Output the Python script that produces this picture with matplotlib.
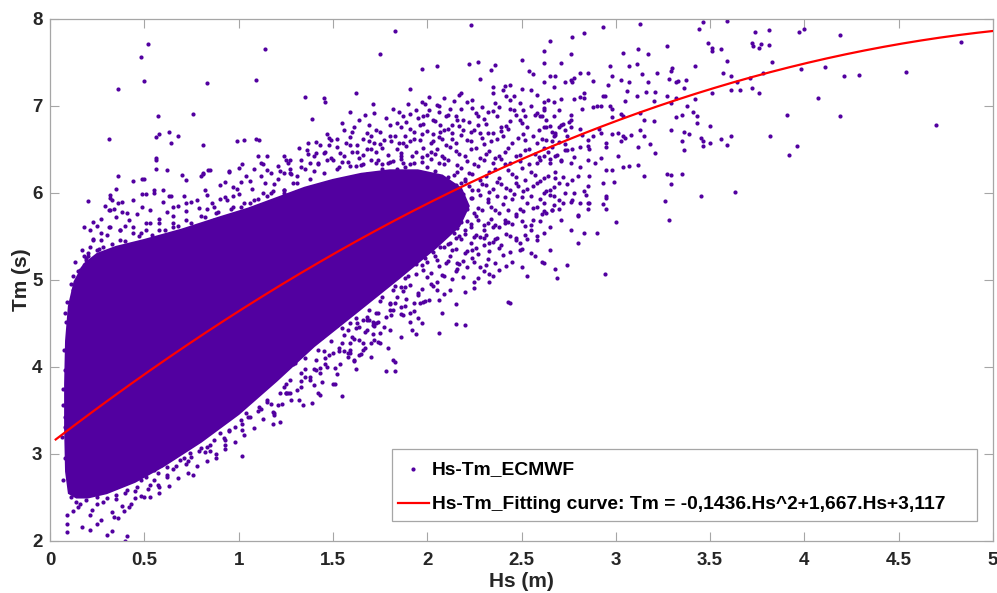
import matplotlib
matplotlib.use("Agg")
import matplotlib.pyplot as plt
from matplotlib.patches import Rectangle
import numpy as np

plt.rcParams['font.family'] = ['Liberation Sans', 'DejaVu Sans']
plt.rcParams['font.weight'] = 'bold'

DOT_COLOR = '#5200a0'

# Outline of the dense core of the cloud, where the dots merge into one solid area
core_hs = [0.10, 0.085, 0.08, 0.08, 0.085, 0.10, 0.13, 0.18, 0.25, 0.35, 0.50, 0.70,
           0.90, 1.05, 1.20, 1.35, 1.50, 1.65, 1.80, 1.95, 2.08, 2.18, 2.22, 2.17,
           2.05, 1.85, 1.62, 1.40, 1.20, 1.00, 0.80, 0.60, 0.45, 0.30, 0.20, 0.14]
core_tm = [2.55, 2.80, 3.30, 3.80, 4.30, 4.70, 4.98, 5.18, 5.30, 5.38, 5.46, 5.58,
           5.72, 5.82, 5.94, 6.06, 6.15, 6.22, 6.26, 6.26, 6.20, 6.05, 5.85, 5.62,
           5.38, 5.02, 4.62, 4.24, 3.84, 3.46, 3.14, 2.86, 2.68, 2.55, 2.50, 2.50]

# Sparse points above the core (small Hs)
upper_pts = [
    (0.52, 7.71), (0.48, 7.56), (0.50, 7.29), (0.36, 7.20), (1.14, 7.66), (1.09, 7.30),
    (0.83, 7.26), (0.76, 6.91), (0.57, 6.89), (0.31, 6.62), (0.58, 6.68), (0.56, 6.64),
    (0.63, 6.70), (0.64, 6.57), (0.68, 6.66), (0.81, 6.55), (0.99, 6.60), (1.09, 6.62),
    (1.11, 6.61), (1.35, 7.10), (1.39, 6.85), (1.45, 7.09), (1.46, 7.04), (1.41, 6.59),
    (0.56, 6.40), (0.56, 6.38), (0.56, 6.28), (0.62, 6.26), (0.50, 6.16), (0.55, 6.00),
    (0.36, 6.19), (0.44, 6.14), (0.49, 5.99), (0.51, 5.99), (0.20, 5.91), (0.23, 5.67),
    (0.18, 5.61), (0.13, 5.21), (0.12, 4.89), (0.16, 5.12), (0.19, 5.23), (0.20, 5.31),
    (0.32, 5.94), (0.32, 5.98), (0.32, 5.80), (0.35, 6.05), (0.34, 5.82), (0.44, 5.92),
    (0.41, 5.77), (0.70, 6.21), (0.72, 6.15), (0.80, 6.19), (0.81, 6.23), (0.85, 6.26),
    (0.90, 6.09), (0.95, 6.24), (0.97, 6.07), (1.01, 6.13), (1.08, 6.28), (1.12, 6.34),
    (1.15, 6.42), (1.21, 6.31), (1.24, 6.23), (1.27, 6.38), (1.33, 6.30), (1.38, 6.34),
    (1.36, 6.49), (1.41, 6.46), (1.46, 6.47), (1.49, 6.61), (1.50, 6.38), (0.63, 5.96),
    (0.65, 5.84), (0.72, 5.88), (0.78, 5.92), (0.83, 5.98), (0.87, 5.84), (0.94, 5.92),
    (0.97, 5.96), (1.01, 5.84), (1.08, 5.92), (1.13, 6.00), (1.18, 6.02), (1.24, 6.00),
    (0.27, 5.54), (0.23, 5.46), (0.28, 5.38), (0.32, 5.61), (0.37, 5.57), (0.42, 5.69),
    (0.48, 5.54), (0.53, 5.65), (0.58, 5.57), (0.65, 5.65), (0.72, 5.54), (0.80, 5.61),
    (0.87, 5.69), (0.94, 5.65), (1.01, 5.69), (1.08, 5.73), (1.15, 5.77), (1.24, 5.80),
    (1.33, 5.88), (1.41, 5.96), (1.50, 6.07), (0.21, 5.58), (0.16, 5.10), (0.17, 5.14),
    (0.18, 5.27), (0.19, 5.25), (0.13, 4.81), (0.14, 4.70), (0.33, 5.92), (0.36, 5.88),
    (0.38, 5.90), (0.31, 5.80), (0.49, 6.16), (0.55, 6.03), (0.60, 6.03), (0.64, 5.96),
    (0.81, 6.22), (0.84, 6.26), (0.95, 6.25), (1.00, 6.29), (1.03, 6.61), (1.02, 6.33),
    (1.10, 6.42), (1.13, 6.33), (1.24, 6.43), (1.25, 6.38), (1.17, 6.23), (1.22, 6.25),
    (1.27, 6.23), (1.33, 6.38), (0.27, 5.46), (0.21, 5.38), (0.18, 5.08), (0.25, 5.34),
    (0.31, 5.61), (0.37, 5.46), (0.44, 5.54), (0.51, 5.57), (0.58, 5.65), (0.65, 5.61),
    (0.72, 5.69), (0.80, 5.73), (0.88, 5.77), (0.97, 5.84), (1.06, 5.88), (1.15, 5.96),
    (1.24, 6.03), (1.29, 6.11), (0.22, 5.20), (0.30, 5.25), (0.38, 5.30), (0.46, 5.28),
    (0.55, 5.33), (0.63, 5.38), (0.70, 5.36), (0.78, 5.45), (0.86, 5.48), (0.94, 5.52),
    (1.02, 5.62), (1.10, 5.70), (1.18, 5.75), (1.26, 5.86), (1.35, 5.92), (1.43, 6.04),
    (1.52, 6.10), (1.60, 6.18), (1.68, 6.22), (1.76, 6.27), (1.84, 6.28), (1.92, 6.24),
    (0.20, 5.28), (0.26, 5.36), (0.33, 5.41), (0.40, 5.45), (0.47, 5.50), (0.54, 5.52),
    (0.61, 5.58), (0.68, 5.62), (0.75, 5.66), (0.82, 5.72), (0.89, 5.78), (0.96, 5.82),
    (1.03, 5.88), (1.10, 5.93), (1.17, 6.00), (1.24, 6.04), (1.31, 6.12), (1.38, 6.16),
    (1.45, 6.23), (1.52, 6.27), (1.59, 6.31), (1.66, 6.33), (1.73, 6.35), (1.80, 6.36),
    (1.87, 6.34), (0.23, 5.47), (0.30, 5.52), (0.37, 5.58), (0.44, 5.61), (0.51, 5.66),
    (0.58, 5.70), (0.65, 5.74), (0.72, 5.79), (0.79, 5.83), (0.86, 5.88), (0.93, 5.95),
    (1.00, 5.99), (1.07, 6.05), (1.14, 6.11), (1.21, 6.16), (1.28, 6.22), (1.35, 6.28),
    (1.42, 6.34), (1.49, 6.40), (1.56, 6.43), (1.63, 6.47), (1.70, 6.50), (0.27, 5.70),
    (0.38, 5.78), (0.49, 5.84), (0.60, 5.90), (0.71, 5.97), (0.82, 6.04), (0.93, 6.13),
    (1.04, 6.19), (1.15, 6.26), (1.26, 6.35), (1.37, 6.45), (1.48, 6.55), (1.59, 6.64),
    (1.70, 6.66), (0.09, 4.75), (0.11, 4.95), (0.15, 5.10),
    (0.12, 5.05), (0.17, 5.35), (0.25, 5.62), (0.29, 5.85), (0.35, 5.72), (0.40, 5.62),
    (0.46, 5.76), (0.53, 5.80), (0.62, 5.78), (0.68, 5.85), (0.75, 5.90), (0.83, 5.82),
    (0.90, 5.93), (0.99, 6.05), (1.06, 6.14), (1.12, 6.20), (1.19, 6.10), (1.27, 6.28),
    (1.31, 6.20), (1.40, 6.25),
    (1.32, 6.52), (1.37, 6.58), (1.43, 6.55), (1.47, 6.68), (1.52, 6.62), (1.55, 6.80),
    (1.60, 6.70), (1.64, 6.84), (1.69, 6.78), (1.72, 6.92), (1.78, 6.86), (1.82, 6.97),
    (1.87, 6.88), (1.90, 7.02), (1.94, 6.95), (1.98, 6.88), (2.01, 7.10), (2.06, 7.00),
    (2.14, 7.06), (2.18, 6.96), (1.54, 6.46), (1.59, 6.55), (1.64, 6.40), (1.69, 6.60),
    (1.75, 6.56), (1.80, 6.65), (1.85, 6.58), (1.91, 6.60), (1.97, 6.68), (2.03, 6.60),
    (2.07, 6.70), (2.13, 6.62), (2.17, 6.77), (2.23, 6.70), (2.27, 6.78),
]

# Points along the left edge and below the core
lower_pts = [
    (0.08, 4.62), (0.085, 4.52), (0.10, 4.16), (0.08, 3.97), (0.10, 3.66), (0.08, 3.43),
    (0.08, 3.31), (0.07, 3.56), (0.09, 3.05), (0.11, 2.89), (0.08, 2.95), (0.09, 2.30),
    (0.09, 2.20), (0.09, 2.10), (0.12, 2.34), (0.15, 2.39), (0.17, 2.16), (0.21, 2.30),
    (0.21, 2.13), (0.25, 2.20), (0.27, 2.24), (0.30, 2.07), (0.33, 2.11), (0.36, 2.26),
    (0.39, 2.34), (0.41, 2.06), (0.40, 2.00), (0.34, 2.28), (0.42, 2.39), (0.45, 2.49),
    (0.50, 2.50), (0.58, 2.55), (0.53, 2.64), (0.57, 2.64), (0.55, 2.82), (0.62, 2.73),
    (0.59, 2.87), (0.67, 2.86), (0.65, 2.97), (0.73, 2.92), (0.71, 2.95), (0.76, 2.76),
    (0.79, 3.03), (0.83, 3.08), (0.88, 2.95), (0.85, 3.03), (0.93, 3.10), (1.02, 2.98),
    (0.93, 3.16), (0.98, 3.31), (1.02, 3.28), (1.06, 3.43), (1.18, 3.35), (1.22, 3.37),
    (1.19, 3.47), (1.11, 3.54), (1.15, 3.62), (1.25, 3.70), (1.21, 3.56), (0.11, 2.51),
    (0.14, 2.45), (0.19, 2.47), (0.25, 2.51), (0.30, 2.49), (0.35, 2.53), (0.41, 2.59),
    (0.46, 2.62), (0.48, 2.70), (0.51, 2.74), (0.57, 2.78), (0.62, 2.85), (0.69, 2.93),
    (0.74, 3.01), (0.80, 3.07), (0.87, 3.16), (0.90, 3.24), (0.95, 3.28), (1.01, 3.39),
    (1.04, 3.47), (1.10, 3.49), (1.17, 3.58), (1.19, 3.45), (1.34, 3.56), (1.39, 3.59),
    (1.40, 3.79), (1.42, 3.70), (1.43, 3.68), (1.50, 3.81), (1.55, 3.67), (1.32, 3.62),
    (1.25, 3.70), (1.27, 3.70), (1.35, 3.89), (1.41, 3.97), (1.43, 3.99),
    (1.59, 4.20), (1.59, 4.16), (1.64, 4.14), (1.66, 4.20), (1.56, 4.37), (1.58, 4.43),
    (1.61, 4.08), (1.78, 3.95), (1.83, 3.95), (1.74, 4.29), (1.70, 4.28), (1.82, 4.08),
    (1.83, 4.06), (1.91, 4.52), (1.92, 4.43), (1.94, 4.38), (2.06, 4.39), (2.15, 4.49),
    (2.20, 4.48), (1.82, 4.66), (1.86, 4.69), (1.93, 4.64), (1.98, 4.75), (2.01, 4.77),
    (2.09, 4.84), (2.20, 4.86), (2.43, 4.75), (1.95, 4.85), (1.91, 4.94), (1.86, 4.92),
    (2.05, 4.98), (2.02, 5.08), (1.98, 5.11), (2.15, 5.10), (2.16, 5.13), (2.21, 5.15),
    (2.28, 5.15), (2.33, 5.07), (2.33, 4.98), (2.38, 5.12), (2.10, 5.19), (2.12, 5.27),
    (2.05, 5.23), (2.09, 5.38), (2.21, 5.33), (2.24, 5.25), (2.30, 5.40), (2.33, 5.42),
    (2.37, 5.48), (2.39, 5.40), (2.26, 5.52), (2.30, 5.57), (2.17, 5.50), (2.14, 5.54),
    (2.23, 5.61), (2.35, 5.61), (2.41, 5.65), (1.84, 4.81), (1.87, 4.87), (1.80, 4.73),
    (1.73, 4.62), (1.68, 4.54), (1.64, 4.46), (1.77, 4.46), (1.50, 4.16), (1.54, 4.04),
    (1.47, 4.00), (1.41, 4.08), (1.38, 3.85), (1.33, 3.93), (1.27, 3.85), (1.24, 3.77),
    (1.29, 4.04), (2.44, 4.74), (1.51, 3.81), (1.61, 4.07), (1.56, 4.18), (1.58, 4.16),
    (1.65, 4.15), (1.71, 4.38), (1.75, 4.27), (1.75, 4.39), (1.59, 4.28), (1.64, 4.31),
    (1.67, 4.22), (1.93, 4.73), (1.91, 4.62), (1.86, 4.61), (1.99, 4.76), (2.05, 4.88),
    (1.73, 4.50), (1.71, 4.48), (1.63, 4.50), (1.59, 4.50), (1.66, 4.54), (1.69, 4.54),
    (1.71, 4.52), (1.80, 4.66), (1.83, 4.73), (1.15, 3.80), (1.22, 3.95), (1.30, 4.05),
    (1.36, 4.22), (1.44, 4.35), (1.52, 4.48), (1.58, 4.62), (1.66, 4.75), (1.74, 4.88),
    (1.82, 5.05), (1.90, 5.20), (1.98, 5.40), (2.02, 5.55),
    (0.25, 2.42), (0.35, 2.48), (0.45, 2.58), (0.55, 2.70), (0.65, 2.83), (0.75, 2.97),
    (0.85, 3.10), (0.95, 3.26), (1.05, 3.42), (1.15, 3.60), (1.25, 3.80), (1.35, 3.98),
    (1.45, 4.18), (0.33, 2.33), (0.43, 2.42), (0.53, 2.50), (0.63, 2.63), (0.73, 2.78),
    (0.83, 2.92), (0.93, 3.06), (1.03, 3.22), (1.13, 3.40), (1.23, 3.58), (1.33, 3.77),
    (1.43, 3.93), (0.07, 2.70), (0.065, 3.20), (0.07, 3.75), (0.075, 4.20),
    (1.82, 4.88), (1.88, 4.92), (1.97, 4.90), (2.03, 4.93), (2.12, 4.89), (2.25, 4.91),
    (1.75, 4.76), (1.80, 4.72), (1.89, 4.78), (1.96, 4.73), (2.06, 4.77), (1.68, 4.58),
    (1.74, 4.62), (1.78, 4.57), (1.87, 4.60), (1.95, 4.56), (1.62, 4.45), (1.68, 4.42),
    (1.72, 4.47), (1.80, 4.43), (1.55, 4.28), (1.61, 4.32), (1.66, 4.27), (1.72, 4.31),
    (1.48, 4.14), (1.53, 4.18), (1.58, 4.12), (1.40, 3.98), (1.46, 4.03), (1.51, 3.99),
    (1.33, 3.84), (1.38, 3.88), (1.44, 3.83), (1.26, 3.70), (1.31, 3.73),
    (1.35, 4.10), (1.42, 4.20), (1.49, 4.30), (1.55, 4.45), (1.62, 4.56), (1.69, 4.66),
    (1.76, 4.80), (1.83, 4.93), (1.90, 5.05), (1.97, 5.17), (2.04, 5.28), (2.12, 5.42),
    (2.20, 5.58), (1.46, 4.10), (1.53, 4.22), (1.60, 4.35), (1.67, 4.40), (1.74, 4.52),
    (1.81, 4.60), (1.88, 4.70), (1.95, 4.83), (2.02, 4.95), (2.09, 5.05), (2.16, 5.20),
    (2.24, 5.34), (2.30, 5.48), (1.52, 3.92), (1.62, 3.98), (1.70, 4.12), (1.79, 4.22),
    (1.86, 4.35), (1.97, 4.50), (2.08, 4.62), (2.15, 4.72), (2.25, 4.98), (2.30, 5.10),
    (0.16, 2.42), (0.22, 2.36), (0.28, 2.45), (0.38, 2.40), (0.48, 2.52), (0.58, 2.62),
    (0.68, 2.72), (0.78, 2.86), (0.88, 3.00), (0.98, 3.14), (1.08, 3.30), (1.18, 3.48),
    (1.28, 3.62), (0.40, 2.55), (0.52, 2.60), (0.62, 2.76), (0.72, 2.88), (0.82, 3.02),
    (0.92, 3.18), (1.02, 3.34), (1.12, 3.52), (1.22, 3.70),
]

# Speckled band at moderate Hs
mid_pts = [
    (1.83, 7.86), (2.23, 7.93), (1.75, 7.60), (1.97, 7.42), (2.05, 7.46), (2.22, 7.48),
    (2.27, 7.50), (2.34, 7.41), (2.36, 7.47), (2.28, 7.31), (2.50, 7.53), (2.54, 7.40),
    (2.56, 7.37), (1.91, 7.19), (1.62, 7.15), (1.71, 7.02), (1.59, 6.93), (1.67, 6.90),
    (1.85, 6.93), (1.97, 7.05), (2.01, 6.95), (2.05, 7.01), (2.09, 7.09), (2.18, 7.15),
    (2.17, 7.13), (2.24, 7.07), (2.24, 6.98), (2.35, 7.22), (2.40, 7.18), (2.42, 7.11),
    (2.44, 7.07), (2.46, 7.11), (2.50, 7.19), (2.55, 7.18), (2.58, 7.13), (2.29, 6.99),
    (2.32, 6.93), (2.36, 7.03), (2.44, 6.97), (2.46, 6.95), (2.51, 6.95), (2.55, 7.00),
    (2.57, 6.90), (2.41, 7.23), (2.44, 7.24), (2.35, 7.15), (2.37, 6.88), (2.39, 6.76),
    (2.35, 6.69), (2.40, 6.65), (2.49, 6.84), (2.53, 6.76), (2.56, 6.65), (2.60, 6.88),
    (2.63, 6.76), (2.67, 6.65), (2.64, 7.07), (2.16, 6.84), (2.19, 6.72), (2.13, 6.69),
    (2.28, 6.69), (1.80, 6.78), (1.86, 6.76), (1.89, 6.82), (1.93, 6.70), (1.96, 6.78),
    (2.00, 6.90), (2.03, 6.84), (2.07, 6.78), (2.10, 6.88), (2.09, 6.72), (1.56, 6.72),
    (1.61, 6.76), (1.68, 6.69), (1.73, 6.72), (1.77, 6.61), (1.48, 6.63), (1.40, 6.42),
    (1.45, 6.46), (1.52, 6.53), (1.57, 6.57), (1.63, 6.55), (1.68, 6.51), (1.73, 6.47),
    (1.79, 6.44), (1.84, 6.50), (1.89, 6.54), (1.94, 6.47), (2.00, 6.44), (2.05, 6.50),
    (2.10, 6.55), (1.42, 6.33), (1.47, 6.38), (1.53, 6.30), (1.58, 6.36), (1.62, 6.31),
    (1.70, 6.38), (1.76, 6.33), (1.82, 6.37), (1.88, 6.30), (1.93, 6.35),
    (1.95, 6.86), (2.11, 6.90), (2.19, 6.84), (2.27, 6.88), (2.31, 6.79), (2.44, 6.83),
    (2.52, 6.89), (1.88, 6.66), (1.93, 6.62), (2.00, 6.71), (2.06, 6.64), (2.21, 6.61),
    (2.29, 6.63), (2.34, 6.60), (2.39, 6.71), (2.48, 6.63), (2.61, 6.62), (2.68, 6.67),
    (1.86, 6.43), (1.97, 6.41), (2.02, 6.47), (2.08, 6.42), (2.12, 6.53), (2.17, 6.45),
    (2.23, 6.51), (2.28, 6.40), (2.33, 6.48), (2.38, 6.43), (2.43, 6.52), (2.49, 6.44),
    (2.54, 6.50), (2.59, 6.41), (2.64, 6.47), (1.95, 6.22), (2.00, 6.30), (2.04, 6.25),
    (2.09, 6.33), (2.14, 6.21), (2.18, 6.29), (2.22, 6.23), (2.27, 6.31), (2.31, 6.20),
    (2.36, 6.27), (2.41, 6.33), (2.45, 6.22), (2.50, 6.29), (2.55, 6.24), (2.58, 6.34),
    (2.02, 6.05), (2.06, 6.12), (2.11, 6.02), (2.15, 6.09), (2.20, 6.14), (2.24, 6.04),
    (2.29, 6.10), (2.33, 6.01), (2.37, 6.13), (2.42, 6.06), (2.47, 6.11), (2.51, 6.02),
    (2.56, 6.08), (2.60, 6.14), (2.05, 5.85), (2.10, 5.92), (2.14, 5.81), (2.19, 5.89),
    (2.23, 5.94), (2.27, 5.83), (2.32, 5.90), (2.36, 5.80), (2.40, 5.87), (2.45, 5.93),
    (2.49, 5.82), (2.53, 5.89), (2.58, 5.84), (2.08, 5.64), (2.12, 5.72), (2.16, 5.60),
    (2.21, 5.68), (2.26, 5.74), (2.30, 5.63), (2.34, 5.70), (2.38, 5.61), (2.43, 5.67),
    (2.47, 5.73), (2.52, 5.62), (2.56, 5.69), (2.02, 5.43), (2.07, 5.50), (2.11, 5.41),
    (2.18, 5.47), (2.23, 5.42), (2.28, 5.49), (2.35, 5.44), (2.44, 5.50), (2.49, 5.42),
    (2.53, 5.47), (1.99, 5.25), (2.03, 5.32), (2.13, 5.35), (2.19, 5.22), (2.27, 5.30),
    (2.32, 5.24), (2.40, 5.29), (2.45, 5.21),
    (3.00, 5.67), (2.94, 5.07), (2.80, 5.42), (2.69, 5.02), (2.74, 5.17), (2.68, 5.13),
    (2.53, 5.05), (2.50, 5.15), (2.61, 5.21), (2.62, 5.19), (2.65, 5.35), (2.71, 5.69),
    (2.76, 5.57), (2.80, 5.75), (2.85, 5.82), (2.86, 5.89), (2.93, 5.87), (2.95, 5.94),
    (2.99, 6.13), (2.62, 5.54), (2.65, 5.61), (2.58, 5.50), (2.55, 5.57), (2.63, 5.77),
    (2.50, 5.36), (2.47, 5.46), (2.55, 5.31), (2.57, 5.27), (2.90, 5.54), (2.83, 5.54),
    (2.77, 5.92), (2.70, 5.92),
    (1.99, 7.02), (2.12, 6.97), (2.21, 7.04), (2.38, 6.99), (2.49, 7.03), (2.62, 6.98),
    (1.91, 6.91), (2.06, 6.93), (2.15, 6.88), (2.26, 6.92), (2.35, 6.94), (2.47, 6.90),
    (2.58, 6.92), (2.70, 6.95), (1.84, 6.81), (1.98, 6.79), (2.04, 6.83), (2.13, 6.78),
    (2.22, 6.82), (2.30, 6.85), (2.42, 6.77), (2.50, 6.81), (2.63, 6.84), (2.72, 6.79),
    (1.75, 6.70), (1.83, 6.66), (1.91, 6.73), (2.03, 6.68), (2.11, 6.74), (2.18, 6.67),
    (2.25, 6.72), (2.32, 6.69), (2.43, 6.74), (2.51, 6.68), (2.59, 6.72), (2.66, 6.70),
    (2.74, 6.66), (1.66, 6.62), (1.72, 6.58), (1.81, 6.60), (1.87, 6.57), (1.96, 6.61),
    (2.02, 6.57), (2.08, 6.62), (2.15, 6.58), (2.23, 6.60), (2.30, 6.56), (2.37, 6.62),
    (2.45, 6.57), (2.52, 6.61), (2.58, 6.58), (2.66, 6.60), (2.73, 6.56), (1.60, 6.47),
    (1.66, 6.44), (1.76, 6.52), (1.86, 6.46), (1.92, 6.42), (1.98, 6.52), (2.04, 6.45),
    (2.09, 6.40), (2.15, 6.48), (2.20, 6.43), (2.26, 6.52), (2.31, 6.45), (2.36, 6.40),
    (2.41, 6.47), (2.47, 6.42), (2.52, 6.49), (2.57, 6.45), (2.62, 6.52), (2.68, 6.43),
    (2.74, 6.49), (1.55, 6.36), (1.65, 6.32), (1.74, 6.38), (1.79, 6.34), (1.86, 6.39),
    (1.91, 6.33), (1.97, 6.36), (2.02, 6.39), (2.06, 6.34), (2.11, 6.38), (2.16, 6.32),
    (2.21, 6.37), (2.25, 6.33), (2.30, 6.38), (2.35, 6.34), (2.39, 6.39), (2.44, 6.34),
    (2.49, 6.37), (2.54, 6.33), (2.60, 6.38), (2.65, 6.34), (2.71, 6.37), (2.11, 6.18),
    (2.16, 6.24), (2.20, 6.16), (2.24, 6.22), (2.28, 6.15), (2.33, 6.24), (2.38, 6.17),
    (2.43, 6.26), (2.47, 6.18), (2.52, 6.15), (2.57, 6.21), (2.62, 6.17), (2.68, 6.24),
    (2.72, 6.18), (2.13, 6.06), (2.18, 6.11), (2.22, 6.08), (2.27, 6.03), (2.31, 6.09),
    (2.35, 6.05), (2.39, 6.10), (2.44, 6.03), (2.48, 6.08), (2.53, 6.05), (2.58, 6.11),
    (2.63, 6.02), (2.67, 6.07), (2.15, 5.96), (2.19, 5.99), (2.24, 5.94), (2.28, 5.98),
    (2.32, 5.93), (2.37, 5.97), (2.41, 5.95), (2.46, 5.99), (2.50, 5.95), (2.55, 5.97),
    (2.60, 5.93), (2.65, 5.98), (2.16, 5.78), (2.21, 5.82), (2.25, 5.77), (2.29, 5.80),
    (2.34, 5.84), (2.38, 5.77), (2.43, 5.81), (2.47, 5.76), (2.51, 5.79), (2.56, 5.83),
    (2.61, 5.76), (2.66, 5.81), (2.14, 5.63), (2.18, 5.67), (2.23, 5.64), (2.27, 5.69),
    (2.32, 5.66), (2.36, 5.63), (2.41, 5.69), (2.45, 5.64), (2.50, 5.68), (2.55, 5.63),
    (2.60, 5.68), (2.10, 5.52), (2.15, 5.48), (2.20, 5.53), (2.25, 5.49), (2.31, 5.52),
    (2.36, 5.47), (2.42, 5.53), (2.47, 5.48), (2.52, 5.52), (2.58, 5.46), (2.02, 5.34),
    (2.07, 5.38), (2.15, 5.36), (2.20, 5.31), (2.26, 5.37), (2.33, 5.33), (2.38, 5.37),
    (2.44, 5.32), (2.49, 5.35), (1.94, 5.18), (2.00, 5.21), (2.06, 5.16), (2.11, 5.22),
    (2.17, 5.18), (2.25, 5.21), (2.31, 5.17), (2.36, 5.20), (2.42, 5.16), (1.88, 5.02),
    (1.94, 5.07), (2.00, 5.03), (2.08, 5.06), (2.13, 5.01), (2.19, 5.04), (2.27, 5.02),
    (2.35, 5.05),
]

# Upper right part of the cloud
right_pts = [
    (2.93, 7.91), (3.13, 7.94), (2.83, 7.84), (2.77, 7.79), (2.65, 7.75), (2.62, 7.63),
    (2.62, 7.49), (2.71, 7.49), (2.76, 7.60), (3.12, 7.66), (3.17, 7.60), (3.04, 7.61),
    (2.97, 7.46), (3.07, 7.46), (3.11, 7.48), (2.81, 7.38), (2.85, 7.38), (2.65, 7.35),
    (2.68, 7.35), (2.73, 7.27), (2.76, 7.30), (2.78, 7.32), (2.77, 7.28), (2.88, 7.29),
    (2.98, 7.34), (3.03, 7.30), (3.07, 7.27), (3.14, 7.37), (3.17, 7.27), (3.22, 7.38),
    (2.96, 7.24), (2.67, 7.22), (2.62, 7.27), (2.83, 7.15), (2.83, 7.09), (2.78, 7.08),
    (2.81, 7.10), (2.71, 7.08), (2.67, 7.05), (2.62, 7.05), (2.93, 7.11), (2.94, 7.11),
    (2.90, 7.00), (2.92, 7.00), (2.97, 7.00), (2.98, 6.96), (3.05, 7.06), (3.06, 7.17),
    (3.11, 7.11), (3.16, 7.16), (3.21, 7.16), (3.20, 7.06), (3.03, 6.91), (3.04, 6.89),
    (2.98, 6.87), (2.88, 6.99), (2.82, 6.96), (2.76, 6.90), (2.76, 6.84), (2.67, 6.88),
    (2.62, 6.95), (2.61, 6.88), (3.13, 6.92), (3.15, 6.84), (3.20, 6.83), (2.62, 6.76),
    (2.65, 6.77), (2.70, 6.76), (2.71, 6.78), (2.68, 6.69), (2.73, 6.72), (2.75, 6.82),
    (2.76, 6.76), (2.81, 6.74), (2.82, 6.67), (2.85, 6.61), (2.88, 6.66), (2.91, 6.74),
    (2.92, 6.69), (2.95, 6.57), (2.95, 6.53), (2.98, 6.68), (3.01, 6.69), (3.04, 6.66),
    (3.03, 6.60), (3.05, 6.63), (3.08, 6.67), (3.13, 6.72), (3.15, 6.65), (3.18, 6.56),
    (3.12, 6.53), (3.21, 6.46), (2.63, 6.61), (2.66, 6.53), (2.70, 6.59), (2.73, 6.49),
    (2.77, 6.51), (2.81, 6.53), (2.85, 6.54), (2.86, 6.51), (2.62, 6.42), (2.65, 6.39),
    (2.69, 6.44), (2.71, 6.38), (2.76, 6.35), (2.78, 6.41), (2.81, 6.30), (2.85, 6.38),
    (2.89, 6.34), (2.92, 6.40), (2.95, 6.26), (2.98, 6.26), (3.01, 6.43), (3.04, 6.30),
    (3.07, 6.31), (3.12, 6.32), (3.15, 6.20), (2.64, 6.19), (2.68, 6.17), (2.70, 6.11),
    (2.74, 6.10), (2.77, 6.15), (2.80, 6.19), (2.85, 6.08), (2.86, 6.19), (2.93, 6.12),
    (2.62, 6.00), (2.65, 6.03), (2.67, 5.96), (2.73, 6.00), (2.78, 6.00), (2.83, 6.02),
    (2.84, 5.98), (2.95, 5.96), (2.62, 5.89), (2.67, 5.86), (2.72, 5.88), (2.76, 5.90),
    (2.81, 5.88), (2.85, 5.88), (2.62, 5.79), (2.66, 5.80), (2.70, 5.82), (2.80, 5.73),
    (2.95, 5.82),
]

# Largest waves, far out on the right
far_pts = [
    (3.46, 7.96), (3.44, 7.88), (3.59, 7.98), (3.27, 7.69), (3.30, 7.44), (3.29, 7.40),
    (3.42, 7.46), (3.49, 7.72), (3.51, 7.67), (3.51, 7.63), (3.56, 7.65), (3.59, 7.52),
    (3.57, 7.38), (3.61, 7.34), (3.64, 7.27), (3.61, 7.18), (3.66, 7.18), (3.71, 7.32),
    (3.72, 7.21), (3.76, 7.15), (3.74, 7.85), (3.72, 7.72), (3.73, 7.69), (3.76, 7.67),
    (3.77, 7.71), (3.81, 7.70), (3.81, 7.87), (3.83, 7.51), (3.78, 7.38), (3.97, 7.85),
    (4.00, 7.89), (3.98, 7.42), (4.11, 7.45), (4.19, 7.82), (4.21, 7.35), (4.29, 7.36),
    (4.07, 7.09), (4.54, 7.39), (4.83, 7.74), (4.19, 6.89), (3.91, 6.90), (4.70, 6.78),
    (3.82, 6.65), (3.96, 6.54), (3.92, 6.44), (3.63, 6.01), (3.45, 5.97), (3.28, 5.69),
    (3.26, 5.91), (3.27, 6.22), (3.29, 6.21), (3.35, 6.22), (3.29, 6.10), (3.36, 6.49),
    (3.35, 6.60), (3.29, 6.72), (3.36, 6.70), (3.39, 6.68), (3.43, 6.81), (3.43, 6.88),
    (3.41, 6.93), (3.35, 6.90), (3.32, 6.87), (3.38, 7.00), (3.42, 7.08), (3.32, 7.09),
    (3.29, 7.03), (3.27, 7.11), (3.32, 7.27), (3.33, 7.29), (3.37, 7.30), (3.36, 7.21),
    (3.28, 7.31), (3.50, 6.77), (3.45, 6.63), (3.46, 6.60), (3.46, 6.54), (3.50, 6.57),
    (3.56, 6.62), (3.59, 6.55), (3.61, 6.66), (3.51, 7.15),
]

# Quadratic fit Tm = a*Hs^2 + b*Hs + c
fit_coef = [-0.1436, 1.667, 3.117]
fit_label = 'Hs-Tm_Fitting curve: Tm = -0,1436.Hs^2+1,667.Hs+3,117'

pts = np.array(upper_pts + lower_pts + mid_pts + right_pts + far_pts)

fig = plt.figure(figsize=(9.97, 5.93), dpi=100)
ax = fig.add_axes([0.0502, 0.0877, 0.9458, 0.8803])

ax.fill(core_hs, core_tm, color=DOT_COLOR, lw=1.5, zorder=1)
ax.scatter(pts[:, 0], pts[:, 1], s=9, color=DOT_COLOR, linewidths=0, zorder=2,
           label='Hs-Tm_ECMWF')

hs_fit = np.linspace(0.03, 5, 300)
ax.plot(hs_fit, np.polyval(fit_coef, hs_fit), color='#ff0000', lw=1.6, zorder=3,
        label=fit_label)

ax.set_xlim(0, 5)
ax.set_ylim(2, 8)
ax.set_xticks(np.arange(0, 5.01, 0.5))
ax.set_xticklabels(['0', '0.5', '1', '1.5', '2', '2.5', '3', '3.5', '4', '4.5', '5'])
ax.set_yticks(range(2, 9))

for sp in ax.spines.values():
    sp.set_color('#a6a6a6')
    sp.set_linewidth(0.9)
ax.tick_params(direction='in', length=6.5, width=0.8, color='#a6a6a6',
               labelcolor='#262626', labelsize=13.5, top=True, right=True, pad=5.5)
ax.tick_params(axis='x', pad=8)
for lab in ax.get_xticklabels() + ax.get_yticklabels():
    lab.set_fontweight('bold')

ax.set_xlabel('Hs (m)', fontsize=15, fontweight='bold', color='#262626', labelpad=2)
ax.set_ylabel('Tm (s)', fontsize=15, fontweight='bold', color='#262626', labelpad=1)

# legend box drawn separately: MATLAB-style wide right margin
ax.add_patch(Rectangle((0.3627, 0.0383), 0.6203, 0.1379, transform=ax.transAxes,
                       facecolor='white', edgecolor='#a6a6a6', lw=0.9, zorder=4))
leg = ax.legend(loc='upper left', bbox_to_anchor=(0.369, 0.155),
                prop={'weight': 'bold', 'size': 13.9}, scatterpoints=1,
                frameon=False, borderpad=0, labelspacing=0.95, handlelength=1.6,
                handletextpad=0.15, borderaxespad=0)
leg.set_zorder(5)

fig.savefig('out.png', dpi=100)
